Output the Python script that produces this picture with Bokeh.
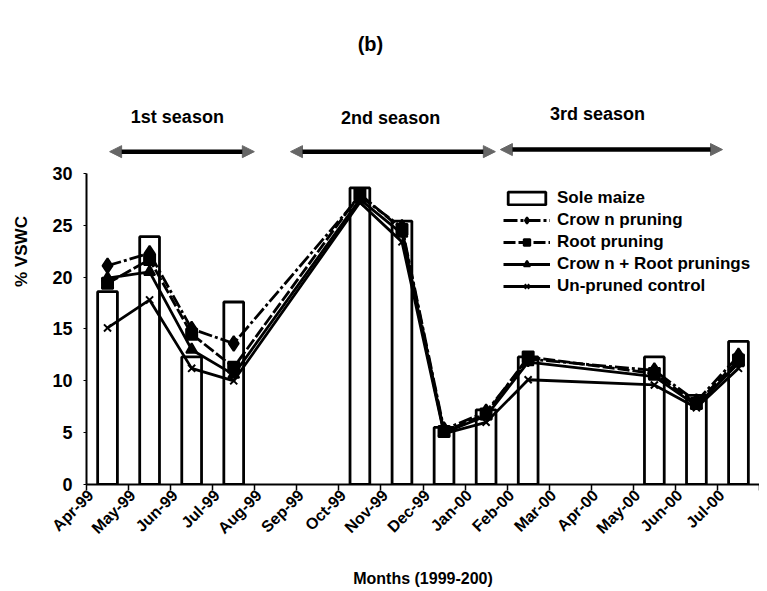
from math import pi
from bokeh.plotting import figure
from bokeh.models import (Range1d, FixedTicker, LinearAxis, Legend, LegendItem,
                          Arrow, NormalHead)
from bokeh.core.properties import value
from bokeh.embed import file_html
from bokeh.resources import INLINE

months = ["Apr-99", "May-99", "Jun-99", "Jul-99", "Aug-99", "Sep-99", "Oct-99",
          "Nov-99", "Dec-99", "Jan-00", "Feb-00", "Mar-00", "Apr-00", "May-00",
          "Jun-00", "Jul-00"]
sole_maize      = [18.6, 23.9, 12.3, 17.6, None, None, 28.6, 25.4, 5.5, 7.2, 12.3, None, None, 12.3, 8.6, 13.8]
crown_pruning   = [21.1, 22.3, 15.0, 13.6, None, None, 27.8, 24.8, 5.3, 7.0, 12.1, None, None, 11.0, 8.0, 12.4]
root_pruning    = [19.4, 21.7, 14.5, 11.3, None, None, 28.0, 24.6, 5.1, 6.8, 12.3, None, None, 10.7, 7.8, 12.0]
crown_root      = [19.9, 20.5, 13.0, 10.6, None, None, 27.5, 24.2, 5.0, 6.6, 11.8, None, None, 10.4, 7.6, 11.7]
unpruned        = [15.1, 17.8, 11.2, 10.0, None, None, 27.2, 23.4, 4.9, 6.0, 10.1, None, None, 9.6, 7.4, 11.2]
seasons = ["1st season", "2nd season", "3rd season"]
y_ticks = [0, 5, 10, 15, 20, 25, 30]

FONT = "Liberation Sans"
centers = [i + 0.5 for i in range(len(months))]
label_pos = [i + 0.1 for i in range(len(months))]

p = figure(frame_width=673, frame_height=466, output_backend="svg", toolbar_location=None,
           x_range=Range1d(0, len(months)), y_range=Range1d(0, 44.94),
           x_axis_type=None, y_axis_type=None,
           min_border_left=86, min_border_right=0, min_border_top=18,
           min_border_bottom=40)
p.outline_line_color = None
p.xgrid.visible = False
p.ygrid.visible = False

# axes
xa = LinearAxis(ticker=FixedTicker(ticks=label_pos, minor_ticks=list(range(len(months) + 1))))
xa.major_label_overrides = {c: m for c, m in zip(label_pos, months)}
xa.major_label_orientation = pi / 4
xa.major_tick_line_color = None
xa.minor_tick_out = 6
xa.minor_tick_in = 0
xa.minor_tick_line_width = 1.5
xa.minor_tick_line_color = "black"
xa.axis_line_width = 2
xa.major_label_text_font = FONT
xa.major_label_text_font_style = "bold"
xa.major_label_text_font_size = "16px"
xa.major_label_text_color = "black"
xa.major_label_standoff = 2
xa.axis_label = "Months (1999-200)"
xa.axis_label_text_font = FONT
xa.axis_label_text_font_style = "bold"
xa.axis_label_text_font_size = "16px"
xa.axis_label_text_color = "black"
xa.axis_label_standoff = 24
p.add_layout(xa, "below")

ya = LinearAxis(ticker=FixedTicker(ticks=y_ticks, minor_ticks=[]), bounds=(0, 30))
ya.axis_line_width = 2
ya.major_tick_out = 3
ya.major_tick_in = 0
ya.major_tick_line_width = 1
ya.major_label_text_font = FONT
ya.major_label_text_font_style = "bold"
ya.major_label_text_font_size = "18px"
ya.major_label_text_color = "black"
ya.major_label_standoff = 11
ya.axis_label = "% VSWC"
ya.axis_label_text_font = FONT
ya.axis_label_text_font_style = "bold"
ya.axis_label_text_font_size = "17px"
ya.axis_label_text_color = "black"
ya.axis_label_standoff = 18
p.add_layout(ya, "left")

# bars
bx = [c for c, v in zip(centers, sole_maize) if v is not None]
bv = [v for v in sole_maize if v is not None]
bars = p.vbar(x=bx, top=bv, width=0.47, bottom=0, fill_color="white",
              line_color="black", line_width=2.8)

def series(vals, dash, marker, size):
    xs = [c for c, v in zip(centers, vals) if v is not None]
    ys = [v for v in vals if v is not None]
    ln = p.line(xs, ys, line_color="black", line_width=2.8, line_dash=dash)
    mk = p.scatter(xs, ys, marker=marker, size=size, fill_color="black",
                   line_color="black", line_width=2)
    return [ln, mk]

r_crown = series(crown_pruning, "14 3 3 3", "diamond", 15)
r_root = series(root_pruning, "12 3", "square", 11)
r_cr = series(crown_root, "solid", "triangle", 11)
r_un = series(unpruned, "solid", "x", 10)

legend = Legend(items=[
    LegendItem(label="Sole maize", renderers=[bars]),
    LegendItem(label="Crow n pruning", renderers=r_crown),
    LegendItem(label="Root pruning", renderers=r_root),
    LegendItem(label="Crow n + Root prunings", renderers=r_cr),
    LegendItem(label="Un-pruned control", renderers=r_un),
], location=(417, 188))
legend.label_text_font = FONT
legend.label_text_font_style = "bold"
legend.label_text_font_size = "17px"
legend.label_text_color = "black"
legend.label_height = 18
legend.glyph_width = 47
legend.glyph_height = 16
legend.spacing = 2
legend.padding = 0
legend.margin = 0
legend.label_standoff = 7
legend.border_line_color = None
legend.background_fill_alpha = 0
p.add_layout(legend)

# season annotations
season_x = [(0.55, 3.99), (4.85, 9.72), (9.84, 15.12)]
season_y = [32.1, 32.1, 32.3]
label_x = [2.16, 7.23, 12.15]
label_y = [35.4, 35.3, 35.7]
for (x0, x1), ay in zip(season_x, season_y):
    p.add_layout(Arrow(x_start=x0, y_start=ay, x_end=x1, y_end=ay,
                       line_width=4.5, line_color="black",
                       start=NormalHead(size=12, fill_color="#666", line_color="#666"),
                       end=NormalHead(size=12, fill_color="#666", line_color="#666")))
p.text(x=label_x, y=label_y, text=seasons, text_font=value(FONT),
       text_font_style="bold", text_font_size="18px",
       text_align="center", text_baseline="middle", text_color="black")

p.text(x=[6.75], y=[42.5], text=["(b)"], text_font=value(FONT),
       text_font_style="bold", text_font_size="20px",
       text_align="center", text_baseline="middle", text_color="black")

open("out.html", "w").write(file_html(p, INLINE))
